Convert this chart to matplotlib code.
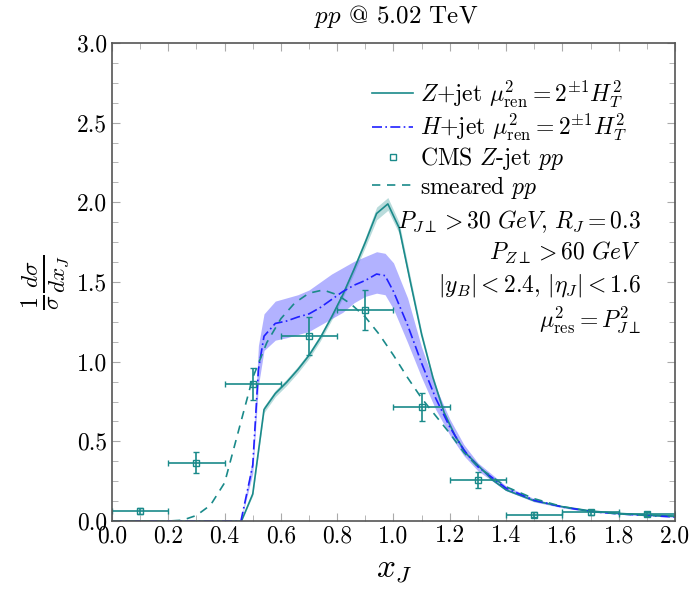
import numpy as np
import matplotlib
matplotlib.use('Agg')
import matplotlib.pyplot as plt
from matplotlib.ticker import MultipleLocator
from matplotlib.lines import Line2D

plt.rcParams['mathtext.fontset'] = 'cm'
plt.rcParams['font.family'] = 'serif'
plt.rcParams['font.serif'] = ['cmr10', 'DejaVu Serif']
plt.rcParams['axes.formatter.use_mathtext'] = True
plt.rcParams['axes.unicode_minus'] = False

teal = '#1a8a8a'
blue = '#2020ff'

# Z+jet theory (central + scale band)
z_x = [0.0, 0.45, 0.46, 0.50, 0.54, 0.58, 0.62, 0.66, 0.70, 0.74, 0.78, 0.82, 0.86, 0.90,
       0.94, 0.98, 1.02, 1.06, 1.10, 1.14, 1.18, 1.22, 1.26, 1.30, 1.35, 1.40, 1.50, 1.60,
       1.70, 1.80, 1.90, 2.00]
z_y = [0.0, 0.0, 0.0, 0.17, 0.70, 0.80, 0.87, 0.95, 1.04, 1.15, 1.28, 1.42, 1.58, 1.75,
       1.93, 1.99, 1.84, 1.50, 1.17, 0.90, 0.68, 0.53, 0.42, 0.35, 0.26, 0.195, 0.127, 0.09,
       0.063, 0.048, 0.038, 0.030]
z_dy = [0.0, 0.0, 0.0, 0.01, 0.02, 0.02, 0.02, 0.02, 0.02, 0.02, 0.02, 0.02, 0.025, 0.03,
        0.04, 0.04, 0.035, 0.03, 0.02, 0.015, 0.01, 0.01, 0.008, 0.006, 0.005, 0.004, 0.003, 0.002,
        0.002, 0.002, 0.002, 0.002]

# H+jet theory
h_x = [0.0, 0.458, 0.50, 0.52, 0.54, 0.58, 0.62, 0.66, 0.70, 0.74, 0.78, 0.82, 0.86, 0.90,
       0.94, 0.97, 1.00, 1.05, 1.10, 1.15, 1.20, 1.25, 1.30, 1.40, 1.50, 1.60, 1.70, 1.80,
       1.90, 2.00]
h_y = [0.0, 0.0, 0.35, 0.95, 1.16, 1.24, 1.255, 1.28, 1.30, 1.34, 1.39, 1.44, 1.48, 1.51,
       1.55, 1.54, 1.44, 1.23, 0.99, 0.77, 0.59, 0.445, 0.34, 0.206, 0.13, 0.088, 0.06, 0.045,
       0.035, 0.025]
h_hi = [0.0, 0.0, 0.40, 1.10, 1.30, 1.38, 1.40, 1.42, 1.45, 1.50, 1.55, 1.59, 1.63, 1.66,
        1.69, 1.68, 1.62, 1.40, 1.09, 0.84, 0.64, 0.48, 0.365, 0.22, 0.14, 0.093, 0.064, 0.048,
        0.037, 0.027]
h_lo = [0.0, 0.0, 0.30, 0.85, 1.07, 1.135, 1.15, 1.17, 1.19, 1.23, 1.27, 1.31, 1.37, 1.41,
        1.43, 1.42, 1.33, 1.12, 0.90, 0.70, 0.54, 0.41, 0.315, 0.19, 0.12, 0.083, 0.056, 0.042,
        0.033, 0.023]

# smeared pp
s_x = [0.0, 0.20, 0.25, 0.30, 0.35, 0.40, 0.45, 0.50, 0.55, 0.60, 0.65, 0.70, 0.75, 0.80,
       0.85, 0.90, 0.95, 1.00, 1.05, 1.10, 1.15, 1.20, 1.25, 1.30, 1.40, 1.50, 1.60, 1.70,
       1.80, 1.90, 2.00]
s_y = [0.0, 0.0, 0.005, 0.035, 0.10, 0.24, 0.57, 0.90, 1.12, 1.27, 1.37, 1.43, 1.45, 1.42,
       1.36, 1.28, 1.17, 1.04, 0.90, 0.77, 0.66, 0.55, 0.43, 0.34, 0.215, 0.14, 0.09, 0.06,
       0.045, 0.035, 0.03]

# CMS data
cms_x = [0.1, 0.3, 0.5, 0.7, 0.9, 1.1, 1.3, 1.5, 1.7, 1.9]
cms_y = [0.063, 0.365, 0.86, 1.16, 1.325, 0.715, 0.255, 0.04, 0.055, 0.042]
cms_yerr = [0.02, 0.066, 0.10, 0.12, 0.125, 0.09, 0.05, 0.015, 0.015, 0.012]
cms_xerr = [0.1] * 10

fig = plt.figure(figsize=(6.98, 5.93), dpi=100)
ax = fig.add_axes([0.1605, 0.1214, 0.8065, 0.8061])

z_y = np.array(z_y); z_dy = np.array(z_dy)
ax.fill_between(z_x, z_y - z_dy, z_y + z_dy, color=teal, alpha=0.3, lw=0)
ax.fill_between(h_x, h_lo, h_hi, color='#6666ff', alpha=0.5, lw=0)
l1, = ax.plot(z_x, z_y, color=teal, lw=1.2)
l2, = ax.plot(h_x, h_y, color=blue, lw=1.2, ls=(0, (6, 2, 1, 2)))
ax.errorbar(cms_x, cms_y, xerr=cms_xerr, yerr=cms_yerr, fmt='s', mfc='none',
            mec=teal, ms=5, color=teal, ecolor=teal, elinewidth=1.2, capsize=2.5)
l4, = ax.plot(s_x, s_y, color=teal, lw=1.2, ls=(0, (5, 4)))
l3 = Line2D([], [], ls='none', marker='s', mfc='none', mec=teal, ms=5)

ax.set_xlim(0, 2)
ax.set_ylim(0, 3)
ax.xaxis.set_major_locator(MultipleLocator(0.2))
ax.xaxis.set_minor_locator(MultipleLocator(0.1))
ax.yaxis.set_major_locator(MultipleLocator(0.5))
ax.yaxis.set_minor_locator(MultipleLocator(0.125))
ax.xaxis.set_major_formatter(plt.FuncFormatter(lambda v, p: '%.1f' % v))
ax.yaxis.set_major_formatter(plt.FuncFormatter(lambda v, p: '%.1f' % v))
ax.tick_params(which='both', direction='in', top=True, right=True, color='#aaaaaa',
               labelsize=17)
ax.tick_params(which='major', length=6)
ax.tick_params(which='minor', length=4)
ax.tick_params(axis='x', pad=3)
for s in ax.spines.values():
    s.set_color('#555555')
    s.set_linewidth(1.2)

ax.set_xlabel(r'$x_J$', fontsize=24, labelpad=6)
ax.set_ylabel(r'$\frac{1}{\sigma}\frac{d\sigma}{dx_J}$', fontsize=24, labelpad=4)
fig.text(0.567, 0.972, r'$pp$ @ 5.02 TeV', ha='center', va='center', fontsize=18)

ax.legend([l1, l2, l3, l4],
          [r'$Z$+jet $\mu^2_{\rm ren}=2^{\pm1}H_T^2$',
           r'$H$+jet $\mu^2_{\rm ren}=2^{\pm1}H_T^2$',
           r'CMS $Z$-jet $pp$',
           r'smeared $pp$'],
          loc='upper left', bbox_to_anchor=(0.445, 0.945), frameon=False,
          fontsize=17, handlelength=1.75, labelspacing=0.08, handletextpad=0.3,
          borderaxespad=0)

ax.text(0.94, 0.626, r'$P_{J\perp} > 30\ GeV,\, R_J = 0.3$', transform=ax.transAxes,
        ha='right', va='center', fontsize=17)
ax.text(0.94, 0.561, r'$P_{Z\perp} > 60\ GeV$', transform=ax.transAxes,
        ha='right', va='center', fontsize=17)
ax.text(0.94, 0.492, r'$|y_B| < 2.4,\, |\eta_J| < 1.6$', transform=ax.transAxes,
        ha='right', va='center', fontsize=17)
ax.text(0.94, 0.42, r'$\mu^2_{\rm res} = P^2_{J\perp}$', transform=ax.transAxes,
        ha='right', va='center', fontsize=17)

fig.savefig('out.png', dpi=100)
